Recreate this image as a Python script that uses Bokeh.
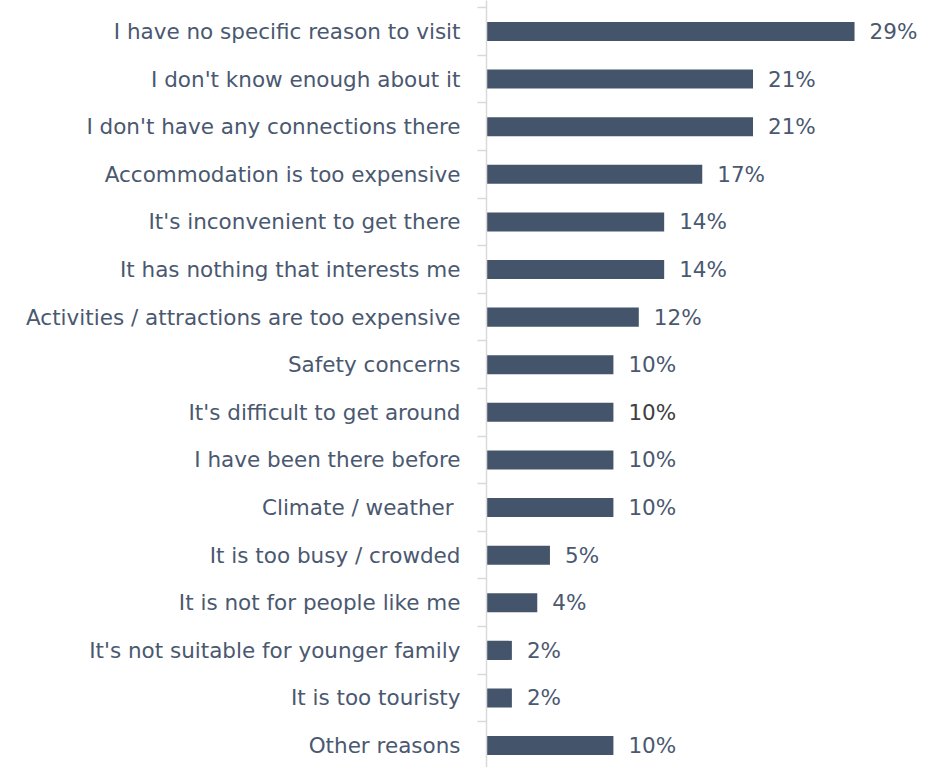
from bokeh.plotting import figure
from bokeh.models import ColumnDataSource, Range1d, FixedTicker
from bokeh.core.properties import value
from bokeh.embed import file_html
from bokeh.resources import INLINE

categories = [
    "I have no specific reason to visit",
    "I don't know enough about it",
    "I don't have any connections there",
    "Accommodation is too expensive",
    "It's inconvenient to get there",
    "It has nothing that interests me",
    "Activities / attractions are too expensive",
    "Safety concerns",
    "It's difficult to get around",
    "I have been there before",
    "Climate / weather ",
    "It is too busy / crowded",
    "It is not for people like me",
    "It's not suitable for younger family",
    "It is too touristy",
    "Other reasons",
]
values = [29, 21, 21, 17, 14, 14, 12, 10, 10, 10, 10, 5, 4, 2, 2, 10]
value_labels = [f"{v}%" for v in values]

FONT = "DejaVu Sans"
BAR = "#44546A"
TEXT = "#4A5870"

idx = list(range(len(categories)))
label_colors = [TEXT] * len(categories)
label_colors[8] = "#404040"

src = ColumnDataSource(dict(y=idx, v=values, lab=value_labels, col=label_colors))

p = figure(width=934, height=767, output_backend="svg", toolbar_location=None,
           x_range=Range1d(0, 35.3), y_range=Range1d(15.46, -0.651),
           min_border_left=486, min_border_right=0, min_border_top=0, min_border_bottom=0)

p.hbar(y="y", left=0, right="v", height=0.4, source=src, color=BAR, line_color=None)
p.text(x="v", y="y", text="lab", source=src, x_offset=15, text_baseline="middle",
       text_align="left", text_font=value(FONT), text_font_size="21.5px", text_color="col")

p.xaxis.visible = False
p.xgrid.visible = False
p.ygrid.visible = False
p.outline_line_color = None

ya = p.yaxis[0]
ya.ticker = FixedTicker(ticks=idx, minor_ticks=[i - 0.5 for i in range(len(categories) + 1)])
ya.major_label_overrides = {i: c for i, c in enumerate(categories)}
ya.major_tick_line_color = None
ya.major_tick_out = 0
ya.major_tick_in = 0
ya.minor_tick_line_color = "#D9D9D9"
ya.minor_tick_line_width = 1.5
ya.minor_tick_out = 9
ya.minor_tick_in = 0
ya.axis_line_color = "#D9D9D9"
ya.axis_line_width = 1.5
ya.major_label_standoff = 17
ya.major_label_text_font = FONT
ya.major_label_text_font_size = "21.5px"
ya.major_label_text_color = TEXT

open("out.html", "w").write(file_html(p, INLINE))
